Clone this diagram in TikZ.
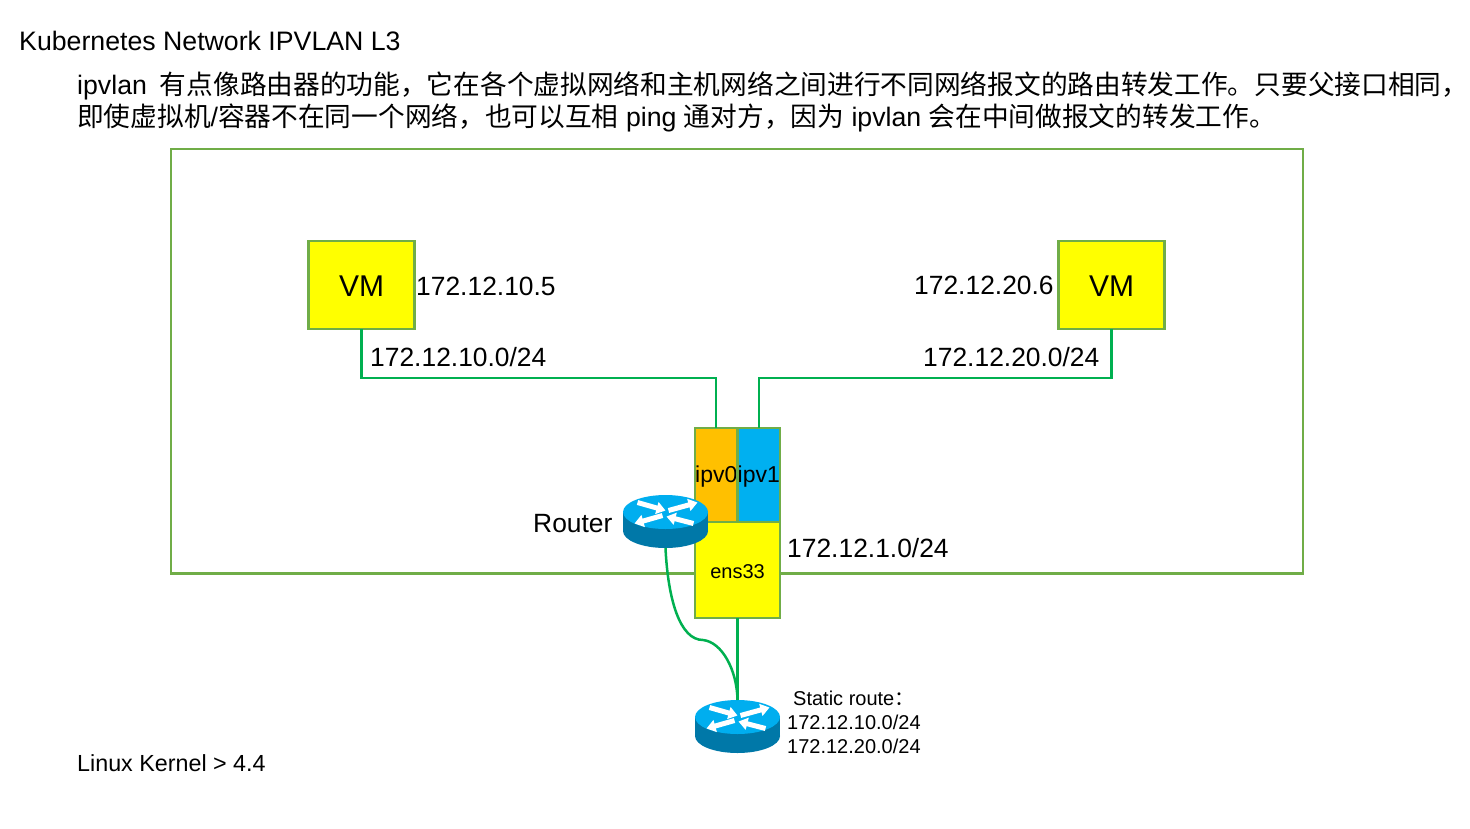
\documentclass[tikz,border=0pt]{standalone}
\usepackage{fontspec}
\setmainfont{Liberation Sans}
\newfontfamily\cjkfont{Noto Sans CJK SC}
\usetikzlibrary{arrows.meta}
\definecolor{linkgreen}{HTML}{00B050}
\definecolor{boxgreen}{HTML}{70AD47}
\definecolor{hostyellow}{HTML}{FFFF00}
\definecolor{ipvorange}{HTML}{FFC000}
\definecolor{ipvblue}{HTML}{00B0F0}
\definecolor{routertop}{HTML}{00AEEF}
\definecolor{routerside}{HTML}{0078A8}
\newcommand{\zh}[1]{{\cjkfont #1}}
\newcommand{\fs}[1]{\fontsize{#1}{#1}\selectfont}
\newcommand{\down}[2]{\raisebox{-#1pt}[\height][\depth]{#2}}
\tikzset{
  txt/.style={inner sep=0pt, anchor=base west, font=\fs{26.4}},
  headtxt/.style={inner sep=0pt, anchor=base west, font=\fs{26.7}},
  smalltxt/.style={inner sep=0pt, anchor=base west, font=\fs{20}},
  hostbox/.style={draw=boxgreen, fill=hostyellow, line width=2.7pt, inner sep=0pt, outer sep=0pt},
  link/.style={draw=linkgreen, line width=2.5pt},
  routerslot/.style={minimum width=85pt, minimum height=53pt, inner sep=0pt, outer sep=0pt},
  routerarrow/.style={draw=white, line width=5pt, -{Triangle[width=12pt,length=9pt]}},
  routericon/.pic={
    \fill[routerside] (0,9.5) ellipse[x radius=42.5, y radius=17];
    \fill[routerside] (-42.5,-9.5) rectangle (42.5,9.5);
    \fill[routertop] (0,-9.5) ellipse[x radius=42.5, y radius=17];
    \draw[routerarrow] (-28,-19) -- (0,-11);
    \draw[routerarrow] (3,-11) -- (32,-19);
    \draw[routerarrow] (-3,-6) -- (-31,2);
    \draw[routerarrow] (28,2) -- (1,-5);
  }
}
\begin{document}
\begin{tikzpicture}[x=1pt, y=-1pt]
  \useasboundingbox (0, 0) rectangle (1470, 828);
  % headings
  \node[headtxt] (title) at (19, 50) {Kubernetes Network IPVLAN L3};
  \node[headtxt] (lineone) at (77, 94) {ipvlan\hspace{13pt}\zh{有点像路由器的功能，它在各个虚拟网络和主机网络之间进行不同网络报文的路由转发工作。只要父接口相同，}};
  \node[headtxt] (linetwo) at (77, 126) {\zh{即使虚拟机}/\zh{容器不在同一个网络，也可以互相} ping \zh{通对方，因为} ipvlan \zh{会在中间做报文的转发工作。}};
  % host frame
  \draw[draw=boxgreen, line width=2.7pt] (171, 149) rectangle (1303, 573.5);
  % boxes
  \node[hostbox, minimum width=106.6pt, minimum height=88pt, font=\fs{30}] (vmleft) at (361.5, 285) {\down{1}{VM}};
  \node[hostbox, minimum width=106.6pt, minimum height=88pt, font=\fs{30}] (vmright) at (1111.5, 285) {\down{1}{VM}};
  \node[hostbox, fill=ipvorange, minimum width=42.5pt, minimum height=94pt, font=\fs{23}] (ipvzero) at (716.25, 475) {\down{1.5}{ipv0}};
  \node[hostbox, fill=ipvblue, minimum width=42.5pt, minimum height=94pt, font=\fs{23}] (ipvone) at (758.75, 475) {\down{1.5}{ipv1}};
  \node[hostbox, minimum width=85pt, minimum height=96pt, font=\fs{20}] (ens) at (737.5, 570) {\down{2}{ens33}};
  % routers
  \node[routerslot] (routerup) at (665.5, 521.5) {};
  \node[routerslot] (routerdown) at (737.5, 726.5) {};
  \pic at (routerup) {routericon};
  \pic at (routerdown) {routericon};
  % links
  \coordinate (bendleft) at (716, 378);
  \coordinate (bendright) at (759, 378);
  \coordinate (curvemid) at (703, 640);
  \draw[link] (vmleft.south) |- (bendleft) -- (bendleft |- ipvzero.north);
  \draw[link] (vmright.south) |- (bendright) -- (bendright |- ipvone.north);
  \draw[link] (ens.south) -- (routerdown.north);
  \draw[link] (routerup.south) .. controls (668, 600) and (680, 640) .. (curvemid)
    .. controls (722, 642) and (737, 670) .. (routerdown.north);
  % labels
  \node[txt] (ipleft) at (416, 295) {172.12.10.5};
  \node[txt] (ipright) at (914, 294) {172.12.20.6};
  \node[txt] (netleft) at (370, 366) {172.12.10.0/24};
  \node[txt] (netright) at (923, 366) {172.12.20.0/24};
  \node[txt] (netens) at (787, 557) {172.12.1.0/24};
  \node[txt] (routerlabel) at (533, 532) {Router};
  \node[smalltxt] (routetitle) at (793, 705) {Static route\zh{：}};
  \node[smalltxt] (routeone) at (787, 729) {172.12.10.0/24};
  \node[smalltxt] (routetwo) at (787, 753) {172.12.20.0/24};
  \node[inner sep=0pt, anchor=base west, font=\fs{23.3}] (kernel) at (77, 771) {Linux Kernel > 4.4};
\end{tikzpicture}
\end{document}
